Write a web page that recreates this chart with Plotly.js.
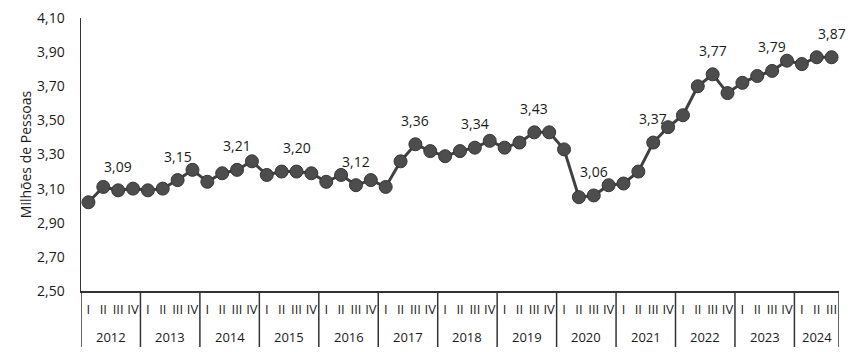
<!DOCTYPE html>
<html>
<head>
<meta charset="utf-8">
<script src="https://cdn.plot.ly/plotly-3.0.1.min.js"></script>
<style>html,body{margin:0;padding:0;background:#fff;}#chart{width:855px;height:352px;}</style>
</head>
<body>
<div id="chart"></div>
<script>
var years = ['2012','2013','2014','2015','2016','2017','2018','2019','2020','2021','2022','2023','2024'];
var quarters = ['I','II','III','IV'];
var values = [
  3.02, 3.11, 3.09, 3.10,
  3.09, 3.10, 3.15, 3.21,
  3.14, 3.19, 3.21, 3.26,
  3.18, 3.20, 3.20, 3.19,
  3.14, 3.18, 3.12, 3.15,
  3.11, 3.26, 3.36, 3.32,
  3.29, 3.32, 3.34, 3.38,
  3.34, 3.37, 3.43, 3.43,
  3.33, 3.05, 3.06, 3.12,
  3.13, 3.20, 3.37, 3.46,
  3.53, 3.70, 3.77, 3.66,
  3.72, 3.76, 3.79, 3.85,
  3.83, 3.87, 3.87
];
var labelQuarter = 'III';

var FONT = '"Open Sans", "Noto Sans", sans-serif';
var INK = '#1a1a1a';
var AXIS = '#333';

var xIdx = [], qText = [], yearOf = [];
for (var i = 0; i < values.length; i++) {
  xIdx.push(i);
  qText.push(quarters[i % 4]);
  yearOf.push(years[Math.floor(i / 4)]);
}

var annotations = [];
var shapes = [];
// data labels on the third quarter of each year
for (var i = 0; i < values.length; i++) {
  if (qText[i] === labelQuarter) {
    annotations.push({
      x: xIdx[i], y: values[i], xref: 'x', yref: 'y',
      text: values[i].toFixed(2).replace('.', ','),
      showarrow: false, yanchor: 'middle', xanchor: 'center', yshift: 24,
      font: {family: FONT, size: 14, color: INK}
    });
  }
}
// year group labels and dividers
years.forEach(function (yr) {
  var idx = [];
  for (var i = 0; i < yearOf.length; i++) if (yearOf[i] === yr) idx.push(xIdx[i]);
  var first = idx[0], last = idx[idx.length - 1];
  annotations.push({
    x: (first + last) / 2, y: 0, xref: 'x', yref: 'paper',
    text: yr, showarrow: false, yanchor: 'middle', xanchor: 'center', yshift: -46,
    font: {family: FONT, size: 13, color: INK}
  });
  shapes.push({type: 'line', xref: 'x', yref: 'paper', x0: first - 0.5, x1: first - 0.5,
    y0: 0, y1: -56 / 273, line: {color: AXIS, width: 1.5}});
  if (yr === years[years.length - 1]) {
    shapes.push({type: 'line', xref: 'x', yref: 'paper', x0: last + 0.5, x1: last + 0.5,
      y0: 0, y1: -56 / 273, line: {color: AXIS, width: 1.5}});
  }
});

var trace = {
  type: 'scatter',
  mode: 'lines+markers',
  x: xIdx,
  y: values,
  cliponaxis: false,
  line: {color: '#404040', width: 3},
  marker: {size: 13, color: '#4d4d4d', line: {color: '#363636', width: 1}},
  hoverinfo: 'skip'
};

var layout = {
  width: 855, height: 352,
  margin: {l: 81, r: 16, t: 18, b: 61},
  paper_bgcolor: '#fff', plot_bgcolor: '#fff',
  separators: ',.',
  showlegend: false,
  font: {family: FONT, color: INK},
  xaxis: {
    type: 'linear',
    range: [-0.5, values.length - 0.5],
    tickmode: 'array', tickvals: xIdx, ticktext: qText,
    showline: true, linecolor: AXIS, linewidth: 1.5,
    ticks: '', showgrid: false, zeroline: false,
    tickangle: 0,
    ticklabelstandoff: 6,
    tickfont: {family: FONT, size: 13, color: INK}
  },
  yaxis: {
    range: [2.5, 4.1], tick0: 2.5, dtick: 0.2, tickformat: '.2f',
    showline: true, linecolor: AXIS, linewidth: 1.5,
    ticks: '', showgrid: false, zeroline: false,
    ticklabelstandoff: 12,
    tickfont: {family: FONT, size: 14, color: INK},
    title: {text: 'Milhões de Pessoas', font: {family: FONT, size: 14, color: INK}, standoff: 2}
  },
  annotations: annotations,
  shapes: shapes
};

Plotly.newPlot('chart', [trace], layout, {displayModeBar: false, staticPlot: true});
</script>
</body>
</html>
